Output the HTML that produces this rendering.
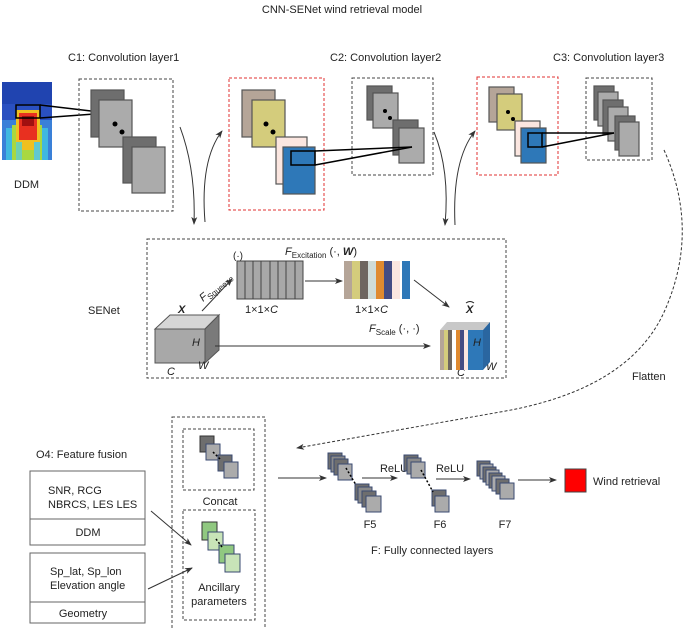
<!DOCTYPE html>
<html><head><meta charset="utf-8"><style>
html,body{margin:0;padding:0;background:#fff;}
svg{display:block;font-family:"Liberation Sans",Arial,sans-serif;}
</style></head><body>
<svg width="685" height="629" viewBox="0 0 685 629" xmlns="http://www.w3.org/2000/svg">
<defs>
<marker id="ah" markerWidth="8" markerHeight="8" refX="7" refY="4" orient="auto" markerUnits="userSpaceOnUse"><path d="M0,1 L8,4 L0,7 L2,4 z" fill="#333"/></marker>
</defs>
<g font-size="11" fill="#222">
<text x="342" y="13" text-anchor="middle">CNN-SENet wind retrieval model</text>
<text x="68" y="61">C1: Convolution layer1</text>
<text x="330" y="61">C2: Convolution layer2</text>
<text x="553" y="61">C3: Convolution layer3</text>
<text x="14" y="188">DDM</text>
<text x="88" y="314">SENet</text>
<text x="632" y="380">Flatten</text>
<text x="36" y="458">O4: Feature fusion</text>
</g>
<!-- DDM heatmap -->
<g>
<rect x="2" y="82" width="50" height="78" fill="#2a50c0"/>
<rect x="2" y="82" width="50" height="22" fill="#2044b0"/>
<rect x="2" y="120" width="50" height="40" fill="#3a80d8"/>
<rect x="6" y="128" width="42" height="32" fill="#40b8e0"/>
<rect x="12" y="125" width="30" height="35" fill="#a8d840"/>
<rect x="16" y="110" width="24" height="40" fill="#f0c020"/>
<rect x="19" y="113" width="18" height="27" fill="#e83020"/>
<rect x="22" y="116" width="12" height="10" fill="#a01010"/>
<rect x="16" y="142" width="6" height="18" fill="#70d0b0"/>
<rect x="34" y="142" width="6" height="18" fill="#60c8d0"/>
<rect x="16" y="105" width="24" height="13" fill="none" stroke="#000" stroke-width="1.5"/>
<line x1="40" y1="105" x2="108" y2="113" stroke="#000" stroke-width="1.5"/>
<line x1="40" y1="118" x2="108" y2="113" stroke="#000" stroke-width="1.5"/>
</g>
<g fill="none" stroke-dasharray="3,2" stroke-width="1">
<rect x="79" y="79" width="94" height="132" stroke="#444"/>
<rect x="229" y="78" width="95" height="132" stroke="#e03030"/>
<rect x="352" y="78" width="81" height="97" stroke="#444"/>
<rect x="477" y="77" width="81" height="98" stroke="#e03030"/>
<rect x="586" y="78" width="66" height="82" stroke="#444"/>
<rect x="147" y="239" width="359" height="139" stroke="#444"/>
<rect x="172" y="417" width="93" height="215" stroke="#444"/>
<rect x="183" y="429" width="71" height="61" stroke="#444"/>
<rect x="183" y="510" width="72" height="110" stroke="#444"/>
</g>
<g stroke="#555" stroke-width="1.2">
<rect x="91" y="90" width="33" height="47" fill="#6e6e6e"/>
<rect x="99" y="100" width="33" height="47" fill="#ababab"/>
<rect x="123" y="137" width="33" height="46" fill="#6e6e6e"/>
<rect x="132" y="147" width="33" height="46" fill="#ababab"/>
<rect x="242" y="90" width="33" height="47" fill="#b5a598"/>
<rect x="252" y="100" width="33" height="47" fill="#d4cc7c"/>
<rect x="276" y="137" width="31" height="47" fill="#fbe6e0"/>
<rect x="283" y="147" width="32" height="47" fill="#2e78b8"/>
<rect x="367" y="86" width="25" height="34" fill="#6e6e6e"/>
<rect x="373" y="93" width="25" height="35" fill="#ababab"/>
<rect x="393" y="120" width="25" height="35" fill="#6e6e6e"/>
<rect x="399" y="128" width="25" height="35" fill="#ababab"/>
<rect x="489" y="87" width="25" height="35" fill="#b5a598"/>
<rect x="497" y="94" width="25" height="36" fill="#d4cc7c"/>
<rect x="515" y="121" width="25" height="35" fill="#fbe6e0"/>
<rect x="521" y="128" width="25" height="35" fill="#2e78b8"/>
<rect x="594" y="86" width="20" height="34" fill="#6e6e6e"/>
<rect x="598" y="92" width="20" height="34" fill="#ababab"/>
<rect x="603" y="100" width="20" height="34" fill="#6e6e6e"/>
<rect x="608" y="107" width="20" height="34" fill="#ababab"/>
<rect x="615" y="116" width="20" height="34" fill="#6e6e6e"/>
<rect x="619" y="122" width="20" height="34" fill="#ababab"/>
</g>
<g fill="#000">
<circle cx="115" cy="124" r="2.5"/><circle cx="122" cy="132" r="2.5"/>
<circle cx="266" cy="124" r="2.5"/><circle cx="273" cy="132" r="2.5"/>
<circle cx="385" cy="111" r="2"/><circle cx="390" cy="118" r="2"/>
<circle cx="508" cy="112" r="2"/><circle cx="513" cy="119" r="2"/>
</g>
<g stroke="#000" stroke-width="1.5" fill="none">
<rect x="291" y="151" width="24" height="14"/>
<line x1="315" y1="151" x2="412" y2="147"/><line x1="315" y1="165" x2="412" y2="147"/>
<rect x="528" y="133" width="14" height="14"/>
<line x1="542" y1="133" x2="614" y2="133"/><line x1="542" y1="147" x2="614" y2="133"/>
</g>
<!-- curved arrows -->
<g stroke="#333" stroke-width="1" fill="none">
<path d="M180 127 Q196 170 194 224" marker-end="url(#ah)"/>
<path d="M205 222 Q200 160 222 131" marker-end="url(#ah)"/>
<path d="M434 132 Q450 170 445 225" marker-end="url(#ah)"/>
<path d="M455 225 Q452 160 475 131" marker-end="url(#ah)"/>
<path d="M664 150 Q700 230 665 310 Q630 390 500 412 L297 448" stroke-dasharray="3,2" marker-end="url(#ah)"/>
</g>
<!-- SENet -->
<g stroke="#555" stroke-width="1">
<polygon points="155,329 170,315 219,315 205,329" fill="#d6d6d6"/>
<polygon points="205,329 219,315 219,350 205,363" fill="#7a7a7a"/>
<rect x="155" y="329" width="50" height="34" fill="#a8a8a8"/>
</g>
<g font-size="11" font-style="italic" fill="#222">
<text x="178" y="313" font-weight="bold">X</text>
<text x="192" y="346">H</text>
<text x="198" y="369">W</text>
<text x="167" y="375">C</text>
<text x="0" y="0" transform="translate(203,302) rotate(-40)">F<tspan font-size="8" font-style="normal" dy="3">Squeeze</tspan></text>
<text x="285" y="255">F<tspan font-size="8" font-style="normal" dy="3">Excitation</tspan><tspan font-style="normal" dy="-3">  (·, </tspan><tspan font-weight="bold">W</tspan><tspan font-style="normal">)</tspan></text>
<text x="369" y="332">F<tspan font-size="8" font-style="normal" dy="3">Scale</tspan><tspan font-style="normal" dy="-3"> (·, ·)</tspan></text>
<text x="466" y="313" font-weight="bold">X</text>
<text x="457" y="376">C</text>
<text x="486" y="370">W</text>
<text x="245" y="313" font-style="normal">1×1×<tspan font-style="italic">C</tspan></text>
<text x="355" y="313" font-style="normal">1×1×<tspan font-style="italic">C</tspan></text>
<text x="233" y="259" font-style="normal" font-size="10">(·)</text>
</g>
<path d="M466 303 q4 -3 8 0" stroke="#222" fill="none"/>
<g stroke="#444" stroke-width="1">
<rect x="237" y="261" width="66" height="38" fill="#a8a8a8"/>
<line x1="245" y1="261" x2="245" y2="299"/><line x1="253" y1="261" x2="253" y2="299"/><line x1="261" y1="261" x2="261" y2="299"/><line x1="270" y1="261" x2="270" y2="299"/><line x1="278" y1="261" x2="278" y2="299"/><line x1="286" y1="261" x2="286" y2="299"/><line x1="295" y1="261" x2="295" y2="299"/>
</g>
<g>
<rect x="344" y="261" width="8" height="38" fill="#b5a598"/>
<rect x="352" y="261" width="8" height="38" fill="#d4cc7c"/>
<rect x="360" y="261" width="8" height="38" fill="#6e6660"/>
<rect x="368" y="261" width="8" height="38" fill="#d0dcd8"/>
<rect x="376" y="261" width="8" height="38" fill="#e08a30"/>
<rect x="384" y="261" width="8" height="38" fill="#444c84"/>
<rect x="392" y="261" width="8" height="38" fill="#fbe6e0"/>
<rect x="402" y="261" width="8" height="38" fill="#2e78b8"/>
</g>
<g>
<polygon points="440,330 447,322 490,322 483,330" fill="#c8c8c8"/>
<rect x="440" y="330" width="4" height="40" fill="#b5a598"/>
<rect x="444" y="330" width="4" height="40" fill="#d4cc7c"/>
<rect x="448" y="330" width="4" height="40" fill="#6e6660"/>
<rect x="452" y="330" width="4" height="40" fill="#fff"/>
<rect x="456" y="330" width="4" height="40" fill="#e08a30"/>
<rect x="460" y="330" width="4" height="40" fill="#444c84"/>
<rect x="464" y="330" width="4" height="40" fill="#fbe6e0"/>
<rect x="468" y="330" width="15" height="40" fill="#2e78b8"/>
<polygon points="483,330 490,322 490,362 483,370" fill="#2a66a0"/>
</g>
<text x="473" y="346" font-size="11" font-style="italic" fill="#222">H</text>
<g stroke="#333" stroke-width="1" fill="none">
<line x1="202" y1="311" x2="232" y2="279" marker-end="url(#ah)"/>
<line x1="305" y1="281" x2="342" y2="281" marker-end="url(#ah)"/>
<line x1="414" y1="280" x2="449" y2="307" marker-end="url(#ah)"/>
<line x1="215" y1="346" x2="430" y2="346" marker-end="url(#ah)"/>
<line x1="151" y1="511" x2="191" y2="545" marker-end="url(#ah)"/>
<line x1="148" y1="589" x2="192" y2="568" marker-end="url(#ah)"/>
<line x1="278" y1="478" x2="326" y2="478" marker-end="url(#ah)"/>
<line x1="362" y1="478" x2="397" y2="478" marker-end="url(#ah)"/>
<line x1="436" y1="479" x2="470" y2="479" marker-end="url(#ah)"/>
<line x1="518" y1="480" x2="556" y2="480" marker-end="url(#ah)"/>
</g>
<!-- feature fusion boxes -->
<g stroke="#666" fill="#fff" stroke-width="1">
<rect x="30" y="471" width="115" height="74"/><line x1="30" y1="519" x2="145" y2="519"/>
<rect x="30" y="553" width="115" height="70"/><line x1="30" y1="602" x2="145" y2="602"/>
</g>
<g font-size="11" fill="#222">
<text x="48" y="494">SNR, RCG</text>
<text x="48" y="508">NBRCS, LES LES</text>
<text x="88" y="536" text-anchor="middle">DDM</text>
<text x="50" y="575">Sp_lat, Sp_lon</text>
<text x="50" y="589">Elevation angle</text>
<text x="83" y="617" text-anchor="middle">Geometry</text>
<text x="220" y="505" text-anchor="middle">Concat</text>
<text x="219" y="591" text-anchor="middle">Ancillary</text>
<text x="219" y="605" text-anchor="middle">parameters</text>
<text x="394" y="472" text-anchor="middle">ReLU</text>
<text x="450" y="472" text-anchor="middle">ReLU</text>
<text x="370" y="528" text-anchor="middle">F5</text>
<text x="440" y="528" text-anchor="middle">F6</text>
<text x="505" y="528" text-anchor="middle">F7</text>
<text x="371" y="554">F: Fully connected layers</text>
<text x="593" y="485">Wind retrieval</text>
</g>
<g stroke="#333" stroke-width="1">
<rect x="200" y="436" width="14" height="16" fill="#6e6e6e"/>
<rect x="206" y="444" width="14" height="16" fill="#ababab" stroke="#3a4a70"/>
<rect x="218" y="455" width="14" height="16" fill="#6e6e6e" stroke="#3a4a70"/>
<rect x="224" y="462" width="14" height="16" fill="#ababab" stroke="#3a4a70"/>
<rect x="202" y="522" width="15" height="18" fill="#90c880"/>
<rect x="208" y="532" width="15" height="18" fill="#c8e4b8" stroke="#3a4a70"/>
<rect x="219" y="545" width="15" height="18" fill="#90c880" stroke="#3a4a70"/>
<rect x="225" y="554" width="15" height="18" fill="#c8e4b8" stroke="#3a4a70"/>
</g>
<g stroke="#3a4a70" stroke-width="1">
<rect x="328" y="453" width="14" height="16" fill="#6e6e6e"/><rect x="331" y="456" width="14" height="16" fill="#8a8a8a"/><rect x="334" y="459" width="14" height="16" fill="#6e6e6e"/><rect x="338" y="464" width="14" height="16" fill="#ababab"/>
<rect x="355" y="484" width="14" height="16" fill="#6e6e6e"/><rect x="358" y="487" width="14" height="16" fill="#8a8a8a"/><rect x="362" y="491" width="14" height="16" fill="#6e6e6e"/><rect x="366" y="496" width="15" height="16" fill="#ababab"/>
<rect x="404" y="455" width="14" height="16" fill="#6e6e6e"/><rect x="407" y="458" width="14" height="16" fill="#8a8a8a"/><rect x="411" y="462" width="14" height="16" fill="#ababab"/>
<rect x="432" y="490" width="14" height="16" fill="#6e6e6e"/><rect x="435" y="496" width="14" height="16" fill="#ababab"/>
<rect x="477" y="461" width="13" height="15" fill="#6e6e6e"/><rect x="480" y="464" width="13" height="15" fill="#ababab"/><rect x="483" y="467" width="13" height="15" fill="#6e6e6e"/><rect x="486" y="470" width="13" height="15" fill="#ababab"/><rect x="489" y="473" width="13" height="15" fill="#6e6e6e"/><rect x="492" y="476" width="13" height="15" fill="#ababab"/><rect x="496" y="479" width="13" height="15" fill="#6e6e6e"/><rect x="500" y="483" width="14" height="16" fill="#ababab"/>
<rect x="565" y="469" width="21" height="23" fill="#ff0000" stroke="#444"/>
</g>
<g stroke="#000" stroke-width="1.5" stroke-dasharray="2,2">
<line x1="346" y1="468" x2="356" y2="485"/><line x1="421" y1="470" x2="433" y2="492"/>
<line x1="213" y1="452" x2="220" y2="459"/><line x1="216" y1="539" x2="222" y2="547"/>
</g>
</svg>
</body></html>
